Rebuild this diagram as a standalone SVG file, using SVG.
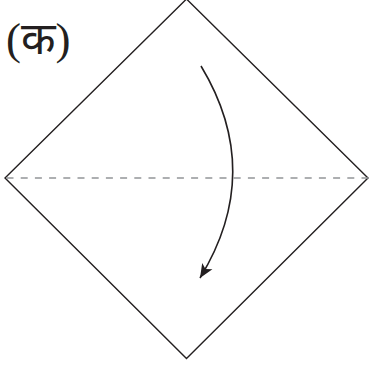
<svg xmlns="http://www.w3.org/2000/svg" width="369" height="366" viewBox="0 0 369 366">
  <style>
    .edge { fill: none; stroke: #231f20; stroke-width: 1.4; stroke-linejoin: miter; }
    .fold { fill: none; stroke: #939598; stroke-width: 1.3; stroke-dasharray: 7 7.2; }
    .arrow { fill: none; stroke: #231f20; stroke-width: 1.6; }
    .label { font-family: "Liberation Serif", "Noto Sans", "DejaVu Sans", serif; font-size: 45px; fill: #231f20; }
  </style>
  <defs>
    <marker id="head" markerUnits="userSpaceOnUse" markerWidth="16" markerHeight="14" refX="14" refY="6" orient="auto" viewBox="0 0 16 12">
      <path d="M0,0 L14,6 L0,12 L3.5,6 Z" fill="#231f20"/>
    </marker>
  </defs>
  <g id="paper">
    <polygon class="edge" points="186.5,-1 368,178 186.5,358.5 5,178"/>
  </g>
  <g id="connectors">
    <line class="fold" x1="6.5" y1="178" x2="369" y2="178"/>
    <path class="arrow" d="M201,66 Q265,172 200,278" marker-end="url(#head)"/>
  </g>
  <g id="label">
    <text class="label" x="6" y="54">(क)</text>
  </g>
</svg>
